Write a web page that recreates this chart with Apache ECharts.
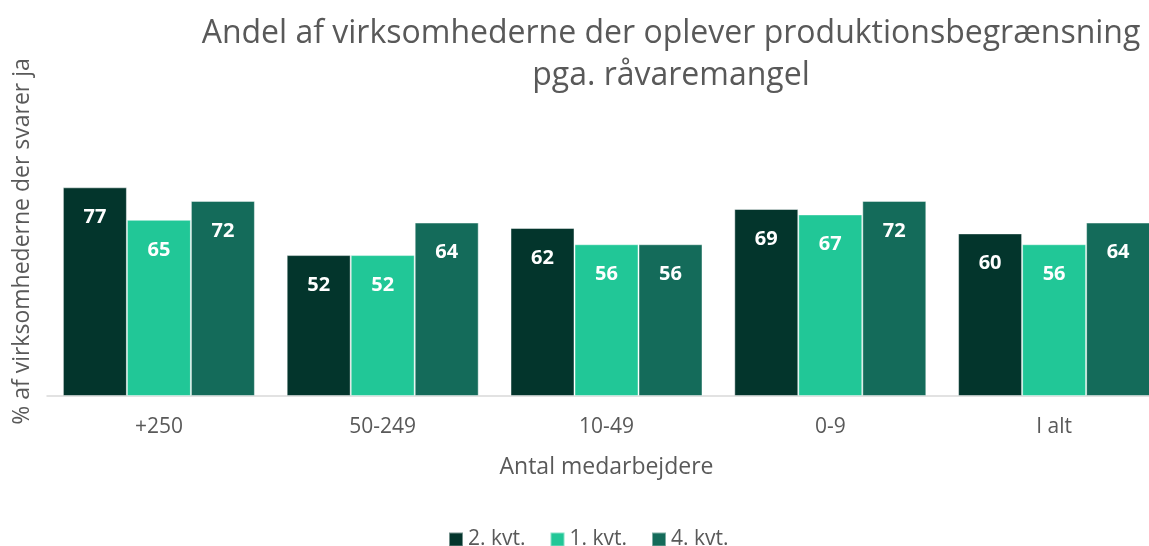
<!DOCTYPE html>
<html>
<head>
<meta charset="utf-8">
<script src="https://cdn.jsdelivr.net/npm/echarts@6/dist/echarts.min.js"></script>
<style>
  html, body { margin: 0; padding: 0; background: #fff; }
  #chart { width: 1149px; height: 546px; }
</style>
</head>
<body>
<div id="chart"></div>
<script>
const categories = ['+250', '50-249', '10-49', '0-9', 'I alt']
const seriesNames = ['2. kvt.', '1. kvt.', '4. kvt.']
const q2Values = [77, 52, 62, 69, 60]
const q1Values = [65, 52, 56, 67, 56]
const q4Values = [72, 64, 56, 72, 64]
const colors = ['#03352c', '#21c797', '#146b5a']

const font = '"Open Sans", "Noto Sans", sans-serif'
const grey = '#595959'

const chart = echarts.init(document.getElementById('chart'))

const barSeries = (name, data, color) => ({
  name: name,
  type: 'bar',
  data: data,
  barWidth: 64,
  barGap: '0%',
  itemStyle: {
    color: color,
    borderColor: 'rgba(255,255,255,0.45)',
    borderWidth: 1
  },
  label: {
    show: true,
    position: 'insideTop',
    distance: 20,
    color: '#ffffff',
    fontFamily: font,
    fontWeight: 'bold',
    fontSize: 20
  }
})

chart.setOption({
  animation: false,
  title: {
    text: 'Andel af virksomhederne der oplever produktionsbegrænsning\npga. råvaremangel',
    left: 666,
    top: 8,
    textAlign: 'center',
    textStyle: {
      fontFamily: font,
      fontWeight: 'normal',
      fontSize: 32,
      lineHeight: 42,
      color: grey
    }
  },
  legend: {
    data: seriesNames,
    top: 524,
    left: 443,
    itemWidth: 14,
    itemHeight: 14,
    itemGap: 24,
    icon: 'rect',
    textStyle: {
      fontFamily: font,
      fontSize: 21,
      color: grey
    }
  },
  grid: {
    left: 47,
    width: 1119,
    top: 125,
    height: 271,
    outerBoundsMode: 'none'
  },
  xAxis: {
    type: 'category',
    data: categories,
    name: 'Antal medarbejdere',
    nameLocation: 'middle',
    nameGap: 60,
    nameTextStyle: {
      fontFamily: font,
      fontSize: 23,
      color: grey
    },
    axisTick: { show: false },
    axisLine: { lineStyle: { color: '#d9d9d9', width: 1.5 } },
    axisLabel: {
      fontFamily: font,
      fontSize: 21,
      color: grey,
      margin: 21
    }
  },
  yAxis: {
    type: 'value',
    min: 0,
    max: 100,
    name: '% af virksomhederne der svarer ja',
    nameLocation: 'middle',
    nameGap: 13,
    nameRotate: 90,
    nameTextStyle: {
      fontFamily: font,
      fontSize: 23,
      color: grey,
      padding: [0, 0, 0, 38]
    },
    axisLabel: { show: false },
    axisLine: { show: false },
    axisTick: { show: false },
    splitLine: { show: false }
  },
  series: [
    barSeries(seriesNames[0], q2Values, colors[0]),
    barSeries(seriesNames[1], q1Values, colors[1]),
    barSeries(seriesNames[2], q4Values, colors[2])
  ]
})
</script>
</body>
</html>
